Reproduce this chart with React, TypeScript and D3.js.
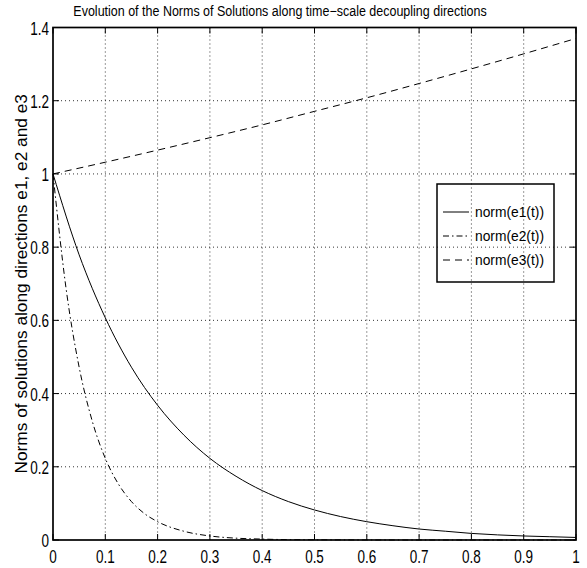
import React, { useEffect, useRef } from "react";
import * as d3 from "d3";

// sample times and norm values
const timesE1 = [0, 0.05, 0.1, 0.15, 0.2, 0.25, 0.3, 0.35, 0.4, 0.45, 0.5, 0.55, 0.6, 0.65, 0.7, 0.75, 0.8, 0.85, 0.9, 0.95, 1];
const normE1 = [1, 0.779, 0.607, 0.472, 0.368, 0.287, 0.223, 0.174, 0.135, 0.105, 0.082, 0.064, 0.05, 0.039, 0.03, 0.024, 0.018, 0.014, 0.011, 0.009, 0.007];

const timesE2 = [0, 0.025, 0.05, 0.075, 0.1, 0.125, 0.15, 0.175, 0.2, 0.25, 0.3, 0.35, 0.4, 0.45, 0.5, 0.6, 0.7, 0.8, 0.9, 1];
const normE2 = [1, 0.687, 0.472, 0.325, 0.223, 0.153, 0.105, 0.072, 0.05, 0.024, 0.011, 0.005, 0.0025, 0.001, 0.0006, 0.0001, 0, 0, 0, 0];

const timesE3 = [0, 0.1, 0.2, 0.3, 0.4, 0.5, 0.6, 0.7, 0.8, 0.9, 1];
const normE3 = [1, 1.032, 1.065, 1.099, 1.134, 1.171, 1.208, 1.247, 1.287, 1.328, 1.37];

const xTicks = [0, 0.1, 0.2, 0.3, 0.4, 0.5, 0.6, 0.7, 0.8, 0.9, 1];
const yTicks = [0, 0.2, 0.4, 0.6, 0.8, 1, 1.2, 1.4];
const legendLabels = ["norm(e1(t))", "norm(e2(t))", "norm(e3(t))"];
const dashes = ["none", "6,3,1.5,3", "7,5"];

export default function App() {
  const svgRef = useRef<SVGSVGElement>(null);

  useEffect(() => {
    const width = 587,
      height = 568;
    const left = 53,
      right = 576,
      top = 27.5,
      bottom = 540;

    const svg = d3.select(svgRef.current);
    svg.selectAll("*").remove();
    svg.attr("width", width).attr("height", height);

    svg.append("rect").attr("width", width).attr("height", height).attr("fill", "#fff");

    const x = d3.scaleLinear().domain([0, 1]).range([left, right]);
    const y = d3.scaleLinear().domain([0, 1.4]).range([bottom, top]);
    const font = "Liberation Sans, Arial, sans-serif";

    // grid
    const grid = svg.append("g").attr("stroke", "#000").attr("stroke-width", 0.8).attr("stroke-dasharray", "1,3");
    xTicks.slice(1, -1).forEach((t) => {
      grid.append("line").attr("x1", x(t)).attr("x2", x(t)).attr("y1", top).attr("y2", bottom);
    });
    yTicks.slice(1, -1).forEach((t) => {
      grid.append("line").attr("x1", left).attr("x2", right).attr("y1", y(t)).attr("y2", y(t));
    });

    // curves
    const series = [
      timesE1.map((t, i) => [t, normE1[i]]),
      timesE2.map((t, i) => [t, normE2[i]]),
      timesE3.map((t, i) => [t, normE3[i]]),
    ];
    const line = d3
      .line<number[]>()
      .x((d) => x(d[0]))
      .y((d) => y(d[1]))
      .curve(d3.curveMonotoneX);
    series.forEach((s, i) => {
      svg
        .append("path")
        .attr("d", line(s))
        .attr("fill", "none")
        .attr("stroke", "#000")
        .attr("stroke-width", 1)
        .attr("stroke-dasharray", dashes[i]);
    });

    // axes box + inward ticks
    const axes = svg.append("g").attr("stroke", "#000").attr("stroke-width", 1.7);
    axes.append("rect").attr("x", left).attr("y", top).attr("width", right - left).attr("height", bottom - top).attr("fill", "none");
    const tl = 6;
    xTicks.forEach((t) => {
      axes.append("line").attr("x1", x(t)).attr("x2", x(t)).attr("y1", bottom).attr("y2", bottom - tl).attr("stroke-width", 1);
      axes.append("line").attr("x1", x(t)).attr("x2", x(t)).attr("y1", top).attr("y2", top + tl).attr("stroke-width", 1);
    });
    yTicks.forEach((t) => {
      axes.append("line").attr("x1", left).attr("x2", left + tl).attr("y1", y(t)).attr("y2", y(t)).attr("stroke-width", 1);
      axes.append("line").attr("x1", right).attr("x2", right - tl).attr("y1", y(t)).attr("y2", y(t)).attr("stroke-width", 1);
    });

    // tick labels (tall, narrow glyphs as in the original export)
    svg
      .append("g")
      .selectAll("text")
      .data(xTicks)
      .join("text")
      .attr("transform", (d) => `translate(${x(d)}, ${bottom + 23}) scale(1, 1.38)`)
      .attr("text-anchor", "middle")
      .attr("font-family", font)
      .attr("font-size", 13.5)
      .text((d) => String(d));
    svg
      .append("g")
      .selectAll("text")
      .data(yTicks)
      .join("text")
      .attr("transform", (d) => `translate(${left - 4}, ${y(d) + 7}) scale(1, 1.38)`)
      .attr("text-anchor", "end")
      .attr("font-family", font)
      .attr("font-size", 13.5)
      .text((d) => String(d));

    // title and y label
    svg
      .append("text")
      .attr("transform", `translate(${(73 + 487) / 2}, 16) scale(1, 1.1)`)
      .attr("text-anchor", "middle")
      .attr("font-family", font)
      .attr("font-size", 12.5)
      .text("Evolution of the Norms of Solutions along time\u2212scale decoupling directions");
    svg
      .append("text")
      .attr("transform", `translate(27, ${(top + bottom) / 2}) rotate(-90)`)
      .attr("text-anchor", "middle")
      .attr("font-family", font)
      .attr("font-size", 17.3)
      .text("Norms of solutions along directions e1, e2 and e3");

    // legend
    const lg = svg.append("g").attr("transform", "translate(437, 184)");
    lg.append("rect").attr("width", 117).attr("height", 98).attr("fill", "none").attr("stroke", "#000").attr("stroke-width", 1.5);
    legendLabels.forEach((lab, i) => {
      const ly = 28 + i * 24;
      lg.append("line")
        .attr("x1", 6)
        .attr("x2", 32)
        .attr("y1", ly)
        .attr("y2", ly)
        .attr("stroke", "#000")
        .attr("stroke-width", 1)
        .attr("stroke-dasharray", dashes[i]);
      lg.append("text")
        .attr("x", 38)
        .attr("y", ly + 5)
        .attr("font-family", font)
        .attr("font-size", 13.8)
        .text(lab);
    });
  }, []);

  return <svg ref={svgRef} style={{ display: "block", position: "absolute", left: 0, top: 0 }} />;
}
